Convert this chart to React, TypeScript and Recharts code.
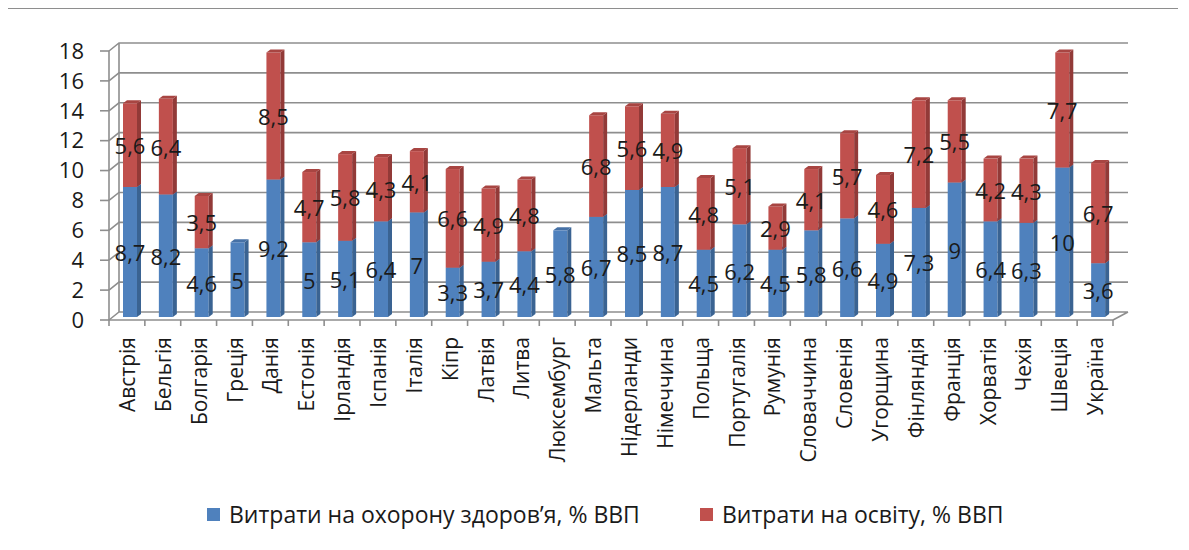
import React from "react";
import { BarChart, Bar, XAxis, YAxis, CartesianGrid, Legend } from "recharts";

const countries = [
  "Австрія", "Бельгія", "Болгарія", "Греція", "Данія", "Естонія", "Ірландія",
  "Іспанія", "Італія", "Кіпр", "Латвія", "Литва", "Люксембург", "Мальта",
  "Нідерланди", "Німеччина", "Польща", "Португалія", "Румунія", "Словаччина",
  "Словенія", "Угорщина", "Фінляндія", "Франція", "Хорватія", "Чехія", "Швеція", "Україна",
];
const health = [8.7, 8.2, 4.6, 5, 9.2, 5, 5.1, 6.4, 7, 3.3, 3.7, 4.4, 5.8, 6.7, 8.5, 8.7, 4.5, 6.2, 4.5, 5.8, 6.6, 4.9, 7.3, 9, 6.4, 6.3, 10, 3.6];
const education = [5.6, 6.4, 3.5, null, 8.5, 4.7, 5.8, 4.3, 4.1, 6.6, 4.9, 4.8, null, 6.8, 5.6, 4.9, 4.8, 5.1, 2.9, 4.1, 5.7, 4.6, 7.2, 5.5, 4.2, 4.3, 7.7, 6.7];
const yTicks = [0, 2, 4, 6, 8, 10, 12, 14, 16, 18];
const seriesNames = ["Витрати на охорону здоров’я, % ВВП", "Витрати на освіту, % ВВП"];

const data = countries.map((name, i) => ({ name, health: health[i], education: education[i] }));

const W = 1170;
const H = 532;
const M = { top: 42, right: 65, bottom: 10, left: 0 };
const BAND = (W - 101 - M.right) / countries.length;
const FONT = "'Open Sans', sans-serif";
const GRID = "#8e8e8e";

const BLUE = "#4f81bd";
const RED = "#c0504d";
const SIDE: Record<string, string> = { [BLUE]: "#3a6392", [RED]: "#923a38" };
const TOP: Record<string, string> = { [BLUE]: "#4671a6", [RED]: "#a84542" };

function Bar3D(props: any) {
  const { x, y, width, height, fill } = props;
  if (!height || height <= 0) return null;
  const X = x + 3;
  const Y = y - 3;
  const d = 4;
  return (
    <g>
      <rect x={X} y={Y} width={width} height={height} fill={fill} />
      <polygon
        points={`${X + width},${Y} ${X + width + d},${Y - 3} ${X + width + d},${Y + height - 3} ${X + width},${Y + height}`}
        fill={SIDE[fill]}
      />
      <polygon
        points={`${X},${Y} ${X + d},${Y - 3} ${X + width + d},${Y - 3} ${X + width},${Y}`}
        fill={TOP[fill]}
      />
    </g>
  );
}

const makeLabel = (values: (number | null)[]) => (props: any) => {
  const { x, y, width, height, index } = props;
  const value = values[index];
  if (value == null) return null;
  return (
    <text
      key={`l-${index}`}
      x={x + width / 2 + 3}
      y={y + height / 2 - 3}
      textAnchor="middle"
      dominantBaseline="central"
      fontFamily={FONT}
      fontSize={22}
      fill="#1a1a1a"
    >
      {String(value).replace(".", ",")}
    </text>
  );
};

function GridLine(props: any) {
  const { x1, y1, x2 } = props;
  const top = M.top;
  const isFloor = Math.abs(y1 - (H - M.bottom - 211)) < 1;
  let d = `M${x1},${y1} L${x1 + 10},${y1 - 8} L${x2 + 15},${y1 - 8}`;
  if (isFloor) {
    d += ` M${x1 + 10},${y1 - 8} L${x1 + 10},${top - 8} M${x2},${y1} L${x2 + 15},${y1 - 8}`;
  }
  return <path key={props.key} d={d} stroke={GRID} strokeWidth={1.6} fill="none" />;
}

function CategoryTick(props: any) {
  const { x, y, payload, index } = props;
  const bx = x - BAND / 2;
  return (
    <g>
      <line x1={bx} y1={y} x2={bx} y2={y + 6} stroke={GRID} strokeWidth={1.6} />
      {index === countries.length - 1 && (
        <line x1={x + BAND / 2} y1={y} x2={x + BAND / 2} y2={y + 6} stroke={GRID} strokeWidth={1.6} />
      )}
      <text
        transform={`translate(${x},${y + 17}) rotate(-90)`}
        textAnchor="end"
        dominantBaseline="central"
        fontFamily={FONT}
        fontSize={21}
        fill="#1a1a1a"
      >
        {payload.value}
      </text>
    </g>
  );
}

function LegendContent() {
  const colors = [BLUE, RED];
  const lefts = [199, 692];
  return (
    <div style={{ position: "relative", height: 30, fontFamily: FONT, fontSize: 23, color: "#1a1a1a" }}>
      {seriesNames.map((n, i) => (
        <div key={n} style={{ position: "absolute", left: lefts[i], top: 0, display: "flex", alignItems: "center", height: 30, whiteSpace: "nowrap" }}>
          <span style={{ width: 13, height: 13, background: colors[i], marginRight: 9, display: "inline-block" }} />
          {n}
        </div>
      ))}
    </div>
  );
}

export default function App() {
  return (
    <div
      style={{
        marginLeft: -2,
        marginTop: -1,
        width: W,
        height: H,
        borderLeft: `2px solid ${GRID}`,
        borderTop: `2px solid ${GRID}`,
        background: "#fff",
      }}
    >
      <BarChart width={W} height={H} data={data} margin={M} barSize={14}>
        <CartesianGrid vertical={false} horizontal={GridLine} />
        <XAxis
          dataKey="name"
          interval={0}
          height={211}
          tick={CategoryTick}
          tickLine={false}
          tickSize={0}
          tickMargin={0}
          axisLine={{ stroke: GRID, strokeWidth: 1.6 }}
        />
        <YAxis
          width={101}
          domain={[0, 18]}
          ticks={yTicks}
          interval={0}
          tickSize={9}
          tickMargin={16}
          axisLine={{ stroke: GRID, strokeWidth: 1.6 }}
          tickLine={{ stroke: GRID, strokeWidth: 1.6 }}
          tick={{ fontFamily: FONT, fontSize: 22, fill: "#1a1a1a" }}
        />
        <Legend
          verticalAlign="middle"
          layout="horizontal"
          wrapperStyle={{ top: 490, left: 0, width: W }}
          content={LegendContent}
        />
        <Bar dataKey="health" name={seriesNames[0]} stackId="a" fill={BLUE} shape={Bar3D} label={makeLabel(health)} isAnimationActive={false} />
        <Bar dataKey="education" name={seriesNames[1]} stackId="a" fill={RED} shape={Bar3D} label={makeLabel(education)} isAnimationActive={false} />
      </BarChart>
    </div>
  );
}
